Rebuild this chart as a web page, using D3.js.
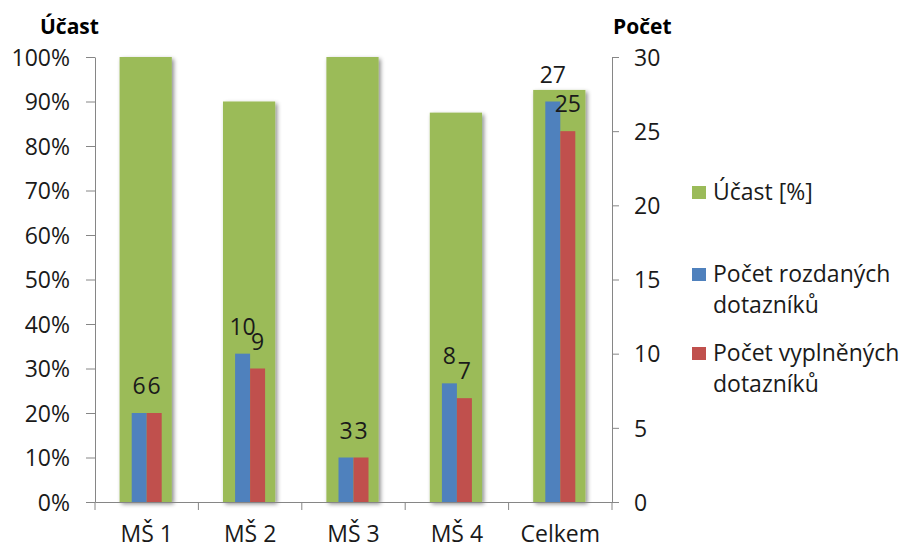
<!DOCTYPE html>
<html><head><meta charset="utf-8">
<script src="https://cdn.jsdelivr.net/npm/d3@7/dist/d3.min.js"></script>
<style>
html,body{margin:0;padding:0;background:#fff;}
svg text{font-family:"Open Sans",sans-serif;}
</style></head>
<body><svg id="c" width="906" height="547"></svg>
<script>
const categories = ["MŠ 1", "MŠ 2", "MŠ 3", "MŠ 4", "Celkem"];
const ucast = [100, 90, 100, 87.5, 92.6];          // Účast [%]
const rozdane = [6, 10, 3, 8, 27];                  // Počet rozdaných dotazníků
const vyplnene = [6, 9, 3, 7, 25];                  // Počet vyplněných dotazníků
const leftTicks = [0, 10, 20, 30, 40, 50, 60, 70, 80, 90, 100];
const rightTicks = [0, 5, 10, 15, 20, 25, 30];
const seriesNames = ["Účast [%]", ["Počet rozdaných", "dotazníků"], ["Počet vyplněných", "dotazníků"]];
const colors = ["#9BBB59", "#4F81BD", "#C0504D"];

const svg = d3.select("#c");
const defs = svg.append("defs");
const f = defs.append("filter").attr("id","sh").attr("x","-20%").attr("y","-5%").attr("width","150%").attr("height","115%");
f.append("feDropShadow").attr("dx",2).attr("dy",2).attr("stdDeviation",2.2).attr("flood-color","#000").attr("flood-opacity",0.45);

const L = 95, R = 612, T = 57, B = 502;
const FS = 23;
const x = d3.scaleBand().domain(categories).range([L, R]).padding(0);
const yL = d3.scaleLinear().domain([0, 100]).range([B, T]);
const yR = d3.scaleLinear().domain([0, 30]).range([B, T]);
const sub = d3.scaleBand().domain([0,1]).range([-15, 15]);
const axisColor = "#868686", textColor = "#1a1a1a";

// green bars
const gw = x.bandwidth() * 0.505;
svg.append("g").selectAll("rect").data(ucast).join("rect")
  .attr("x", (d,i) => x(categories[i]) + x.bandwidth()/2 - gw/2 - 1)
  .attr("width", gw)
  .attr("y", d => yL(d))
  .attr("height", d => B - yL(d))
  .attr("fill", colors[0])
  .attr("filter", "url(#sh)");

// count bars
[rozdane, vyplnene].forEach((arr, k) => {
  svg.append("g").selectAll("rect").data(arr).join("rect")
    .attr("x", (d,i) => x(categories[i]) + x.bandwidth()/2 + sub(k))
    .attr("width", sub.bandwidth())
    .attr("y", d => yR(d))
    .attr("height", d => B - yR(d))
    .attr("fill", colors[k+1]);
});
// labels
[rozdane, vyplnene].forEach((arr, k) => {
  svg.append("g").selectAll("text").data(arr).join("text")
    .attr("x", (d,i) => x(categories[i]) + x.bandwidth()/2 + sub(k) + sub.bandwidth()/2)
    .attr("y", d => yR(d) - 19)
    .attr("text-anchor", "middle")
    .attr("font-size", FS)
    .attr("fill", textColor)
    .text(d => d);
});

// left axis
const gl = svg.append("g").attr("transform", `translate(${L},0)`)
  .call(d3.axisLeft(yL).tickValues(leftTicks).tickFormat(d => d + "%").tickSize(9).tickSizeOuter(0).tickPadding(16));
// right axis
const gr = svg.append("g").attr("transform", `translate(${R},0)`)
  .call(d3.axisRight(yR).tickValues(rightTicks).tickSize(7).tickSizeOuter(0).tickPadding(15));
// bottom axis
const gb = svg.append("g").attr("transform", `translate(0,${B})`)
  .call(d3.axisBottom(x).tickSize(0).tickSizeOuter(0).tickPadding(24));
const bounds = categories.map(c => x(c)).concat([x.range()[1]]);
gb.selectAll("line.bt").data(bounds).join("line").attr("class","bt")
  .attr("x1", d => d).attr("x2", d => d).attr("y1", 0).attr("y2", 8)
  .attr("stroke", axisColor);

[gl, gr, gb].forEach(g => {
  g.selectAll("path.domain").attr("stroke", axisColor);
  g.selectAll(".tick line").attr("stroke", axisColor);
  g.selectAll("text").attr("font-size", FS).attr("fill", textColor).attr("font-family", "Open Sans");
});
gl.selectAll("text").attr("dy", "0.36em");
gr.selectAll("text").attr("dy", "0.36em");

// axis titles
svg.append("text").attr("x", 40).attr("y", 34).attr("font-size", 21).attr("font-weight", "bold").attr("fill", "#000").text("Účast");
svg.append("text").attr("x", 613).attr("y", 34).attr("font-size", 21).attr("font-weight", "bold").attr("fill", "#000").text("Počet");

// legend
const leg = [
  {c: colors[0], lines: [seriesNames[0]], y: 200},
  {c: colors[1], lines: seriesNames[1], y: 282},
  {c: colors[2], lines: seriesNames[2], y: 361}
];
const lg = svg.append("g");
leg.forEach(e => {
  lg.append("rect").attr("x", 692).attr("y", e.y - 14).attr("width", 14).attr("height", 13).attr("fill", e.c);
  const t = lg.append("text").attr("x", 713).attr("y", e.y).attr("font-size", FS).attr("fill", textColor);
  e.lines.forEach((s, i) => t.append("tspan").attr("x", 713).attr("dy", i === 0 ? 0 : 31).text(s));
});
</script></body></html>
